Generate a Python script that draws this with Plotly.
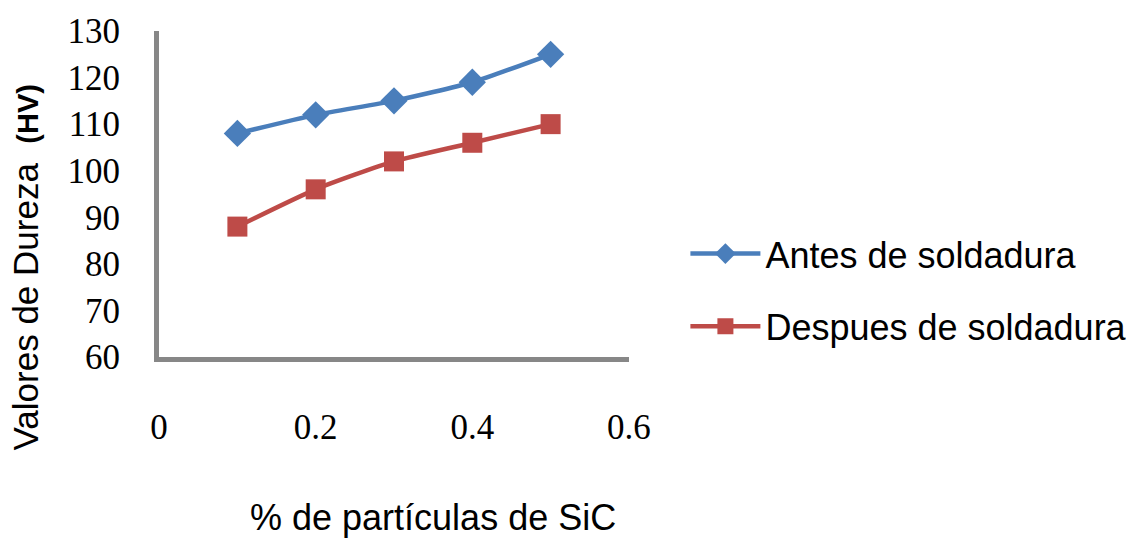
import plotly.graph_objects as go

# % SiC particle content
sic_pct = [0.1, 0.2, 0.3, 0.4, 0.5]
# Vickers hardness before and after welding
antes = [108, 112, 115, 119, 125]
despues = [88, 96, 102, 106, 110]

x_ticks = [0, 0.2, 0.4, 0.6]
y_ticks = [60, 70, 80, 90, 100, 110, 120, 130]

blue = "#4A7EBB"
red = "#BE4B48"
axis_grey = "#878787"

fig = go.Figure()
fig.add_trace(go.Scatter(
    x=sic_pct, y=antes, name="Antes de soldadura", legendgroup="a",
    mode="lines+markers",
    line=dict(color=blue, width=4.5, shape="spline", smoothing=0.6),
    marker=dict(symbol="diamond", size=21, color=blue),
))
fig.add_trace(go.Scatter(
    x=sic_pct, y=despues, name="Despues de soldadura", legendgroup="b",
    mode="lines+markers",
    line=dict(color=red, width=4.5, shape="spline", smoothing=0.6),
    marker=dict(symbol="square", size=20, color=red),
))

fig.update_layout(
    width=1145, height=538,
    margin=dict(l=159, r=516, t=25, b=181),
    paper_bgcolor="white", plot_bgcolor="white",
    font=dict(family="Liberation Sans, Arial, sans-serif", size=36, color="black"),
    showlegend=True,
    legend=dict(
        x=1.12, y=0.205, xanchor="left", yanchor="middle",
        itemwidth=70, traceorder="grouped", tracegroupgap=23,
        font=dict(size=36, family="Liberation Sans, Arial, sans-serif"),
        bgcolor="rgba(0,0,0,0)",
    ),
    xaxis=dict(
        range=[-0.0001, 0.6001], tickvals=x_ticks, ticktext=[str(v) for v in x_ticks],
        showgrid=False, zeroline=False, showline=True, linecolor=axis_grey, linewidth=5,
        ticks="", ticklabelstandoff=35,
        tickfont=dict(family="Liberation Serif, Times New Roman, serif", size=35),
    ),
    yaxis=dict(
        range=[60, 130], tickvals=y_ticks,
        showgrid=False, zeroline=False, showline=True, linecolor=axis_grey, linewidth=5,
        ticks="", ticklabelstandoff=27,
        tickfont=dict(family="Liberation Serif, Times New Roman, serif", size=35),
    ),
    annotations=[
        dict(text="% de partículas de SiC", xref="paper", yref="paper",
             x=0.583, y=-0.491, xanchor="center", yanchor="middle",
             showarrow=False, font=dict(size=36)),
        dict(text="Valores de Dureza  <b><span style='font-size:29px'>(HV)</span></b>",
             xref="paper", yref="paper", x=-0.285, y=0.275,
             xanchor="center", yanchor="middle", textangle=-90,
             showarrow=False, font=dict(size=35)),
    ],
)

fig.write_html("out.html")
